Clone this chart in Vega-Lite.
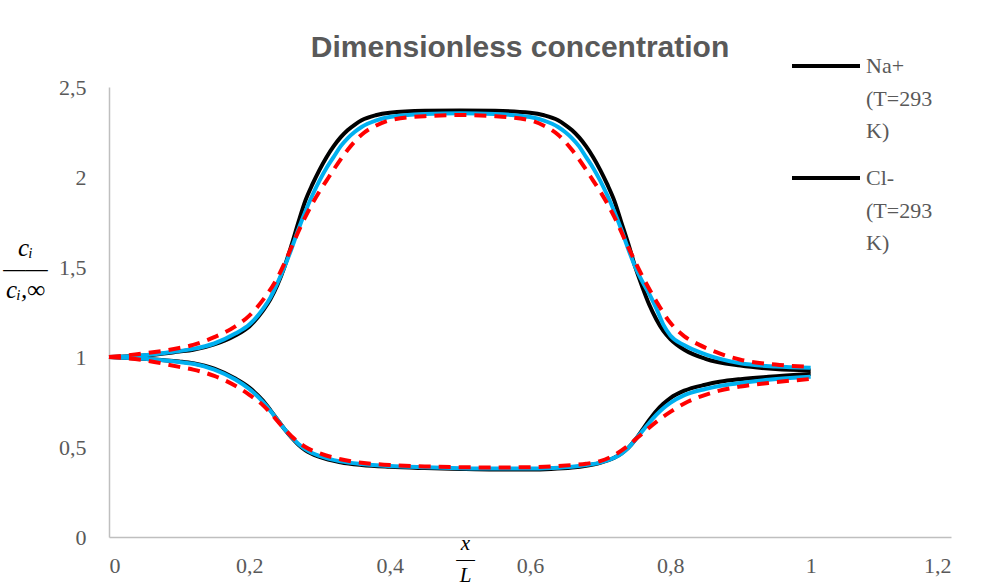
{
  "$schema": "https://vega.github.io/schema/vega-lite/v6.json",
  "width": 842,
  "height": 450,
  "autosize": {"type": "none"},
  "padding": {"left": 109, "top": 87, "right": 31, "bottom": 50},
  "background": "white",
  "title": {
    "text": "Dimensionless concentration",
    "font": "Liberation Sans",
    "fontSize": 30,
    "fontWeight": "bold",
    "color": "#595959",
    "baseline": "alphabetic",
    "offset": 25,
    "dx": -10,
    "dy": 82
  },
  "config": {
    "view": {"stroke": null},
    "axis": {
      "grid": false,
      "ticks": false,
      "domainColor": "#bfbfbf",
      "domainWidth": 1.5,
      "labelFont": "Liberation Serif",
      "labelFontSize": 22,
      "labelColor": "#595959",
      "titleFont": "Liberation Serif",
      "titleFontStyle": "italic",
      "titleFontWeight": "normal",
      "titleColor": "#000000"
    },
    "legend": {
      "labelFont": "Liberation Serif",
      "labelFontSize": 22,
      "labelColor": "#595959",
      "labelLimit": 200
    }
  },
  "data": {
    "values": [
      {"run": "A", "ion": "Na+ (T=293 K)", "x": 0, "c": 1.0},
      {"run": "A", "ion": "Na+ (T=293 K)", "x": 0.05, "c": 1.008},
      {"run": "A", "ion": "Na+ (T=293 K)", "x": 0.1, "c": 1.03},
      {"run": "A", "ion": "Na+ (T=293 K)", "x": 0.12, "c": 1.04},
      {"run": "A", "ion": "Na+ (T=293 K)", "x": 0.15, "c": 1.07},
      {"run": "A", "ion": "Na+ (T=293 K)", "x": 0.18, "c": 1.12},
      {"run": "A", "ion": "Na+ (T=293 K)", "x": 0.2, "c": 1.17},
      {"run": "A", "ion": "Na+ (T=293 K)", "x": 0.22, "c": 1.26},
      {"run": "A", "ion": "Na+ (T=293 K)", "x": 0.23, "c": 1.32},
      {"run": "A", "ion": "Na+ (T=293 K)", "x": 0.24, "c": 1.4},
      {"run": "A", "ion": "Na+ (T=293 K)", "x": 0.25, "c": 1.5},
      {"run": "A", "ion": "Na+ (T=293 K)", "x": 0.26, "c": 1.62},
      {"run": "A", "ion": "Na+ (T=293 K)", "x": 0.27, "c": 1.75},
      {"run": "A", "ion": "Na+ (T=293 K)", "x": 0.28, "c": 1.87},
      {"run": "A", "ion": "Na+ (T=293 K)", "x": 0.29, "c": 1.96},
      {"run": "A", "ion": "Na+ (T=293 K)", "x": 0.3, "c": 2.04},
      {"run": "A", "ion": "Na+ (T=293 K)", "x": 0.31, "c": 2.11},
      {"run": "A", "ion": "Na+ (T=293 K)", "x": 0.32, "c": 2.17},
      {"run": "A", "ion": "Na+ (T=293 K)", "x": 0.33, "c": 2.22},
      {"run": "A", "ion": "Na+ (T=293 K)", "x": 0.34, "c": 2.26},
      {"run": "A", "ion": "Na+ (T=293 K)", "x": 0.35, "c": 2.29},
      {"run": "A", "ion": "Na+ (T=293 K)", "x": 0.36, "c": 2.315},
      {"run": "A", "ion": "Na+ (T=293 K)", "x": 0.38, "c": 2.343},
      {"run": "A", "ion": "Na+ (T=293 K)", "x": 0.4, "c": 2.357},
      {"run": "A", "ion": "Na+ (T=293 K)", "x": 0.45, "c": 2.368},
      {"run": "A", "ion": "Na+ (T=293 K)", "x": 0.5, "c": 2.37},
      {"run": "A", "ion": "Na+ (T=293 K)", "x": 0.55, "c": 2.368},
      {"run": "A", "ion": "Na+ (T=293 K)", "x": 0.6, "c": 2.357},
      {"run": "A", "ion": "Na+ (T=293 K)", "x": 0.62, "c": 2.343},
      {"run": "A", "ion": "Na+ (T=293 K)", "x": 0.64, "c": 2.315},
      {"run": "A", "ion": "Na+ (T=293 K)", "x": 0.65, "c": 2.29},
      {"run": "A", "ion": "Na+ (T=293 K)", "x": 0.66, "c": 2.26},
      {"run": "A", "ion": "Na+ (T=293 K)", "x": 0.67, "c": 2.22},
      {"run": "A", "ion": "Na+ (T=293 K)", "x": 0.68, "c": 2.17},
      {"run": "A", "ion": "Na+ (T=293 K)", "x": 0.69, "c": 2.11},
      {"run": "A", "ion": "Na+ (T=293 K)", "x": 0.7, "c": 2.04},
      {"run": "A", "ion": "Na+ (T=293 K)", "x": 0.71, "c": 1.96},
      {"run": "A", "ion": "Na+ (T=293 K)", "x": 0.72, "c": 1.87},
      {"run": "A", "ion": "Na+ (T=293 K)", "x": 0.73, "c": 1.75},
      {"run": "A", "ion": "Na+ (T=293 K)", "x": 0.74, "c": 1.63},
      {"run": "A", "ion": "Na+ (T=293 K)", "x": 0.75, "c": 1.5},
      {"run": "A", "ion": "Na+ (T=293 K)", "x": 0.76, "c": 1.39},
      {"run": "A", "ion": "Na+ (T=293 K)", "x": 0.77, "c": 1.29},
      {"run": "A", "ion": "Na+ (T=293 K)", "x": 0.78, "c": 1.21},
      {"run": "A", "ion": "Na+ (T=293 K)", "x": 0.79, "c": 1.145},
      {"run": "A", "ion": "Na+ (T=293 K)", "x": 0.8, "c": 1.1},
      {"run": "A", "ion": "Na+ (T=293 K)", "x": 0.82, "c": 1.04},
      {"run": "A", "ion": "Na+ (T=293 K)", "x": 0.85, "c": 0.99},
      {"run": "A", "ion": "Na+ (T=293 K)", "x": 0.9, "c": 0.952},
      {"run": "A", "ion": "Na+ (T=293 K)", "x": 0.95, "c": 0.933},
      {"run": "A", "ion": "Na+ (T=293 K)", "x": 1.0, "c": 0.925},

      {"run": "B", "ion": "Na+ (T=293 K)", "x": 0, "c": 1.0},
      {"run": "B", "ion": "Na+ (T=293 K)", "x": 0.05, "c": 1.01},
      {"run": "B", "ion": "Na+ (T=293 K)", "x": 0.1, "c": 1.033},
      {"run": "B", "ion": "Na+ (T=293 K)", "x": 0.12, "c": 1.045},
      {"run": "B", "ion": "Na+ (T=293 K)", "x": 0.15, "c": 1.075},
      {"run": "B", "ion": "Na+ (T=293 K)", "x": 0.18, "c": 1.13},
      {"run": "B", "ion": "Na+ (T=293 K)", "x": 0.2, "c": 1.18},
      {"run": "B", "ion": "Na+ (T=293 K)", "x": 0.22, "c": 1.27},
      {"run": "B", "ion": "Na+ (T=293 K)", "x": 0.23, "c": 1.33},
      {"run": "B", "ion": "Na+ (T=293 K)", "x": 0.24, "c": 1.41},
      {"run": "B", "ion": "Na+ (T=293 K)", "x": 0.25, "c": 1.5},
      {"run": "B", "ion": "Na+ (T=293 K)", "x": 0.26, "c": 1.6},
      {"run": "B", "ion": "Na+ (T=293 K)", "x": 0.27, "c": 1.71},
      {"run": "B", "ion": "Na+ (T=293 K)", "x": 0.28, "c": 1.81},
      {"run": "B", "ion": "Na+ (T=293 K)", "x": 0.29, "c": 1.9},
      {"run": "B", "ion": "Na+ (T=293 K)", "x": 0.3, "c": 1.98},
      {"run": "B", "ion": "Na+ (T=293 K)", "x": 0.31, "c": 2.05},
      {"run": "B", "ion": "Na+ (T=293 K)", "x": 0.32, "c": 2.11},
      {"run": "B", "ion": "Na+ (T=293 K)", "x": 0.33, "c": 2.17},
      {"run": "B", "ion": "Na+ (T=293 K)", "x": 0.34, "c": 2.215},
      {"run": "B", "ion": "Na+ (T=293 K)", "x": 0.35, "c": 2.25},
      {"run": "B", "ion": "Na+ (T=293 K)", "x": 0.36, "c": 2.278},
      {"run": "B", "ion": "Na+ (T=293 K)", "x": 0.38, "c": 2.313},
      {"run": "B", "ion": "Na+ (T=293 K)", "x": 0.4, "c": 2.333},
      {"run": "B", "ion": "Na+ (T=293 K)", "x": 0.45, "c": 2.35},
      {"run": "B", "ion": "Na+ (T=293 K)", "x": 0.5, "c": 2.354},
      {"run": "B", "ion": "Na+ (T=293 K)", "x": 0.55, "c": 2.35},
      {"run": "B", "ion": "Na+ (T=293 K)", "x": 0.6, "c": 2.333},
      {"run": "B", "ion": "Na+ (T=293 K)", "x": 0.62, "c": 2.313},
      {"run": "B", "ion": "Na+ (T=293 K)", "x": 0.64, "c": 2.278},
      {"run": "B", "ion": "Na+ (T=293 K)", "x": 0.65, "c": 2.25},
      {"run": "B", "ion": "Na+ (T=293 K)", "x": 0.66, "c": 2.215},
      {"run": "B", "ion": "Na+ (T=293 K)", "x": 0.67, "c": 2.17},
      {"run": "B", "ion": "Na+ (T=293 K)", "x": 0.68, "c": 2.11},
      {"run": "B", "ion": "Na+ (T=293 K)", "x": 0.69, "c": 2.05},
      {"run": "B", "ion": "Na+ (T=293 K)", "x": 0.7, "c": 1.98},
      {"run": "B", "ion": "Na+ (T=293 K)", "x": 0.71, "c": 1.9},
      {"run": "B", "ion": "Na+ (T=293 K)", "x": 0.72, "c": 1.81},
      {"run": "B", "ion": "Na+ (T=293 K)", "x": 0.73, "c": 1.71},
      {"run": "B", "ion": "Na+ (T=293 K)", "x": 0.74, "c": 1.6},
      {"run": "B", "ion": "Na+ (T=293 K)", "x": 0.75, "c": 1.5},
      {"run": "B", "ion": "Na+ (T=293 K)", "x": 0.76, "c": 1.42},
      {"run": "B", "ion": "Na+ (T=293 K)", "x": 0.77, "c": 1.35},
      {"run": "B", "ion": "Na+ (T=293 K)", "x": 0.78, "c": 1.27},
      {"run": "B", "ion": "Na+ (T=293 K)", "x": 0.79, "c": 1.18},
      {"run": "B", "ion": "Na+ (T=293 K)", "x": 0.8, "c": 1.12},
      {"run": "B", "ion": "Na+ (T=293 K)", "x": 0.82, "c": 1.065},
      {"run": "B", "ion": "Na+ (T=293 K)", "x": 0.85, "c": 1.015},
      {"run": "B", "ion": "Na+ (T=293 K)", "x": 0.9, "c": 0.965},
      {"run": "B", "ion": "Na+ (T=293 K)", "x": 0.95, "c": 0.947},
      {"run": "B", "ion": "Na+ (T=293 K)", "x": 1.0, "c": 0.94},

      {"run": "C", "ion": "Na+ (T=293 K)", "x": 0, "c": 1.0},
      {"run": "C", "ion": "Na+ (T=293 K)", "x": 0.05, "c": 1.02},
      {"run": "C", "ion": "Na+ (T=293 K)", "x": 0.1, "c": 1.05},
      {"run": "C", "ion": "Na+ (T=293 K)", "x": 0.12, "c": 1.067},
      {"run": "C", "ion": "Na+ (T=293 K)", "x": 0.15, "c": 1.11},
      {"run": "C", "ion": "Na+ (T=293 K)", "x": 0.18, "c": 1.17},
      {"run": "C", "ion": "Na+ (T=293 K)", "x": 0.2, "c": 1.23},
      {"run": "C", "ion": "Na+ (T=293 K)", "x": 0.22, "c": 1.32},
      {"run": "C", "ion": "Na+ (T=293 K)", "x": 0.24, "c": 1.44},
      {"run": "C", "ion": "Na+ (T=293 K)", "x": 0.25, "c": 1.52},
      {"run": "C", "ion": "Na+ (T=293 K)", "x": 0.26, "c": 1.61},
      {"run": "C", "ion": "Na+ (T=293 K)", "x": 0.28, "c": 1.78},
      {"run": "C", "ion": "Na+ (T=293 K)", "x": 0.3, "c": 1.92},
      {"run": "C", "ion": "Na+ (T=293 K)", "x": 0.31, "c": 1.98},
      {"run": "C", "ion": "Na+ (T=293 K)", "x": 0.32, "c": 2.04},
      {"run": "C", "ion": "Na+ (T=293 K)", "x": 0.34, "c": 2.15},
      {"run": "C", "ion": "Na+ (T=293 K)", "x": 0.36, "c": 2.235},
      {"run": "C", "ion": "Na+ (T=293 K)", "x": 0.38, "c": 2.285},
      {"run": "C", "ion": "Na+ (T=293 K)", "x": 0.4, "c": 2.315},
      {"run": "C", "ion": "Na+ (T=293 K)", "x": 0.45, "c": 2.338},
      {"run": "C", "ion": "Na+ (T=293 K)", "x": 0.5, "c": 2.344},
      {"run": "C", "ion": "Na+ (T=293 K)", "x": 0.55, "c": 2.338},
      {"run": "C", "ion": "Na+ (T=293 K)", "x": 0.6, "c": 2.315},
      {"run": "C", "ion": "Na+ (T=293 K)", "x": 0.62, "c": 2.285},
      {"run": "C", "ion": "Na+ (T=293 K)", "x": 0.64, "c": 2.235},
      {"run": "C", "ion": "Na+ (T=293 K)", "x": 0.66, "c": 2.15},
      {"run": "C", "ion": "Na+ (T=293 K)", "x": 0.68, "c": 2.04},
      {"run": "C", "ion": "Na+ (T=293 K)", "x": 0.69, "c": 1.98},
      {"run": "C", "ion": "Na+ (T=293 K)", "x": 0.7, "c": 1.92},
      {"run": "C", "ion": "Na+ (T=293 K)", "x": 0.72, "c": 1.78},
      {"run": "C", "ion": "Na+ (T=293 K)", "x": 0.74, "c": 1.61},
      {"run": "C", "ion": "Na+ (T=293 K)", "x": 0.76, "c": 1.45},
      {"run": "C", "ion": "Na+ (T=293 K)", "x": 0.78, "c": 1.31},
      {"run": "C", "ion": "Na+ (T=293 K)", "x": 0.8, "c": 1.19},
      {"run": "C", "ion": "Na+ (T=293 K)", "x": 0.82, "c": 1.115},
      {"run": "C", "ion": "Na+ (T=293 K)", "x": 0.84, "c": 1.07},
      {"run": "C", "ion": "Na+ (T=293 K)", "x": 0.87, "c": 1.02},
      {"run": "C", "ion": "Na+ (T=293 K)", "x": 0.9, "c": 0.985},
      {"run": "C", "ion": "Na+ (T=293 K)", "x": 0.95, "c": 0.958},
      {"run": "C", "ion": "Na+ (T=293 K)", "x": 1.0, "c": 0.945},

      {"run": "A", "ion": "Cl- (T=293 K)", "x": 0, "c": 1.0},
      {"run": "A", "ion": "Cl- (T=293 K)", "x": 0.05, "c": 0.99},
      {"run": "A", "ion": "Cl- (T=293 K)", "x": 0.1, "c": 0.975},
      {"run": "A", "ion": "Cl- (T=293 K)", "x": 0.12, "c": 0.965},
      {"run": "A", "ion": "Cl- (T=293 K)", "x": 0.15, "c": 0.935},
      {"run": "A", "ion": "Cl- (T=293 K)", "x": 0.18, "c": 0.88},
      {"run": "A", "ion": "Cl- (T=293 K)", "x": 0.2, "c": 0.83},
      {"run": "A", "ion": "Cl- (T=293 K)", "x": 0.22, "c": 0.755},
      {"run": "A", "ion": "Cl- (T=293 K)", "x": 0.23, "c": 0.705},
      {"run": "A", "ion": "Cl- (T=293 K)", "x": 0.24, "c": 0.652},
      {"run": "A", "ion": "Cl- (T=293 K)", "x": 0.25, "c": 0.6},
      {"run": "A", "ion": "Cl- (T=293 K)", "x": 0.26, "c": 0.553},
      {"run": "A", "ion": "Cl- (T=293 K)", "x": 0.27, "c": 0.513},
      {"run": "A", "ion": "Cl- (T=293 K)", "x": 0.28, "c": 0.482},
      {"run": "A", "ion": "Cl- (T=293 K)", "x": 0.3, "c": 0.445},
      {"run": "A", "ion": "Cl- (T=293 K)", "x": 0.33, "c": 0.415},
      {"run": "A", "ion": "Cl- (T=293 K)", "x": 0.36, "c": 0.4},
      {"run": "A", "ion": "Cl- (T=293 K)", "x": 0.4, "c": 0.39},
      {"run": "A", "ion": "Cl- (T=293 K)", "x": 0.45, "c": 0.383},
      {"run": "A", "ion": "Cl- (T=293 K)", "x": 0.5, "c": 0.378},
      {"run": "A", "ion": "Cl- (T=293 K)", "x": 0.55, "c": 0.375},
      {"run": "A", "ion": "Cl- (T=293 K)", "x": 0.6, "c": 0.375},
      {"run": "A", "ion": "Cl- (T=293 K)", "x": 0.63, "c": 0.378},
      {"run": "A", "ion": "Cl- (T=293 K)", "x": 0.66, "c": 0.386},
      {"run": "A", "ion": "Cl- (T=293 K)", "x": 0.68, "c": 0.396},
      {"run": "A", "ion": "Cl- (T=293 K)", "x": 0.7, "c": 0.412},
      {"run": "A", "ion": "Cl- (T=293 K)", "x": 0.72, "c": 0.44},
      {"run": "A", "ion": "Cl- (T=293 K)", "x": 0.73, "c": 0.463},
      {"run": "A", "ion": "Cl- (T=293 K)", "x": 0.74, "c": 0.495},
      {"run": "A", "ion": "Cl- (T=293 K)", "x": 0.75, "c": 0.54},
      {"run": "A", "ion": "Cl- (T=293 K)", "x": 0.76, "c": 0.595},
      {"run": "A", "ion": "Cl- (T=293 K)", "x": 0.77, "c": 0.65},
      {"run": "A", "ion": "Cl- (T=293 K)", "x": 0.78, "c": 0.7},
      {"run": "A", "ion": "Cl- (T=293 K)", "x": 0.79, "c": 0.74},
      {"run": "A", "ion": "Cl- (T=293 K)", "x": 0.8, "c": 0.772},
      {"run": "A", "ion": "Cl- (T=293 K)", "x": 0.82, "c": 0.813},
      {"run": "A", "ion": "Cl- (T=293 K)", "x": 0.85, "c": 0.846},
      {"run": "A", "ion": "Cl- (T=293 K)", "x": 0.87, "c": 0.862},
      {"run": "A", "ion": "Cl- (T=293 K)", "x": 0.9, "c": 0.877},
      {"run": "A", "ion": "Cl- (T=293 K)", "x": 0.94, "c": 0.89},
      {"run": "A", "ion": "Cl- (T=293 K)", "x": 1.0, "c": 0.905},

      {"run": "B", "ion": "Cl- (T=293 K)", "x": 0, "c": 1.0},
      {"run": "B", "ion": "Cl- (T=293 K)", "x": 0.05, "c": 0.99},
      {"run": "B", "ion": "Cl- (T=293 K)", "x": 0.1, "c": 0.972},
      {"run": "B", "ion": "Cl- (T=293 K)", "x": 0.12, "c": 0.962},
      {"run": "B", "ion": "Cl- (T=293 K)", "x": 0.15, "c": 0.93},
      {"run": "B", "ion": "Cl- (T=293 K)", "x": 0.18, "c": 0.875},
      {"run": "B", "ion": "Cl- (T=293 K)", "x": 0.2, "c": 0.822},
      {"run": "B", "ion": "Cl- (T=293 K)", "x": 0.22, "c": 0.748},
      {"run": "B", "ion": "Cl- (T=293 K)", "x": 0.23, "c": 0.702},
      {"run": "B", "ion": "Cl- (T=293 K)", "x": 0.24, "c": 0.651},
      {"run": "B", "ion": "Cl- (T=293 K)", "x": 0.25, "c": 0.6},
      {"run": "B", "ion": "Cl- (T=293 K)", "x": 0.26, "c": 0.556},
      {"run": "B", "ion": "Cl- (T=293 K)", "x": 0.27, "c": 0.517},
      {"run": "B", "ion": "Cl- (T=293 K)", "x": 0.28, "c": 0.487},
      {"run": "B", "ion": "Cl- (T=293 K)", "x": 0.3, "c": 0.45},
      {"run": "B", "ion": "Cl- (T=293 K)", "x": 0.33, "c": 0.42},
      {"run": "B", "ion": "Cl- (T=293 K)", "x": 0.36, "c": 0.405},
      {"run": "B", "ion": "Cl- (T=293 K)", "x": 0.4, "c": 0.394},
      {"run": "B", "ion": "Cl- (T=293 K)", "x": 0.45, "c": 0.387},
      {"run": "B", "ion": "Cl- (T=293 K)", "x": 0.5, "c": 0.382},
      {"run": "B", "ion": "Cl- (T=293 K)", "x": 0.55, "c": 0.38},
      {"run": "B", "ion": "Cl- (T=293 K)", "x": 0.6, "c": 0.38},
      {"run": "B", "ion": "Cl- (T=293 K)", "x": 0.63, "c": 0.383},
      {"run": "B", "ion": "Cl- (T=293 K)", "x": 0.66, "c": 0.39},
      {"run": "B", "ion": "Cl- (T=293 K)", "x": 0.68, "c": 0.4},
      {"run": "B", "ion": "Cl- (T=293 K)", "x": 0.7, "c": 0.413},
      {"run": "B", "ion": "Cl- (T=293 K)", "x": 0.72, "c": 0.44},
      {"run": "B", "ion": "Cl- (T=293 K)", "x": 0.73, "c": 0.462},
      {"run": "B", "ion": "Cl- (T=293 K)", "x": 0.74, "c": 0.495},
      {"run": "B", "ion": "Cl- (T=293 K)", "x": 0.75, "c": 0.54},
      {"run": "B", "ion": "Cl- (T=293 K)", "x": 0.76, "c": 0.588},
      {"run": "B", "ion": "Cl- (T=293 K)", "x": 0.77, "c": 0.635},
      {"run": "B", "ion": "Cl- (T=293 K)", "x": 0.78, "c": 0.678},
      {"run": "B", "ion": "Cl- (T=293 K)", "x": 0.79, "c": 0.715},
      {"run": "B", "ion": "Cl- (T=293 K)", "x": 0.8, "c": 0.745},
      {"run": "B", "ion": "Cl- (T=293 K)", "x": 0.82, "c": 0.788},
      {"run": "B", "ion": "Cl- (T=293 K)", "x": 0.85, "c": 0.822},
      {"run": "B", "ion": "Cl- (T=293 K)", "x": 0.87, "c": 0.839},
      {"run": "B", "ion": "Cl- (T=293 K)", "x": 0.9, "c": 0.855},
      {"run": "B", "ion": "Cl- (T=293 K)", "x": 0.94, "c": 0.873},
      {"run": "B", "ion": "Cl- (T=293 K)", "x": 1.0, "c": 0.89},

      {"run": "C", "ion": "Cl- (T=293 K)", "x": 0, "c": 1.0},
      {"run": "C", "ion": "Cl- (T=293 K)", "x": 0.05, "c": 0.982},
      {"run": "C", "ion": "Cl- (T=293 K)", "x": 0.1, "c": 0.945},
      {"run": "C", "ion": "Cl- (T=293 K)", "x": 0.12, "c": 0.93},
      {"run": "C", "ion": "Cl- (T=293 K)", "x": 0.15, "c": 0.895},
      {"run": "C", "ion": "Cl- (T=293 K)", "x": 0.18, "c": 0.84},
      {"run": "C", "ion": "Cl- (T=293 K)", "x": 0.2, "c": 0.79},
      {"run": "C", "ion": "Cl- (T=293 K)", "x": 0.22, "c": 0.73},
      {"run": "C", "ion": "Cl- (T=293 K)", "x": 0.23, "c": 0.69},
      {"run": "C", "ion": "Cl- (T=293 K)", "x": 0.24, "c": 0.645},
      {"run": "C", "ion": "Cl- (T=293 K)", "x": 0.25, "c": 0.6},
      {"run": "C", "ion": "Cl- (T=293 K)", "x": 0.26, "c": 0.56},
      {"run": "C", "ion": "Cl- (T=293 K)", "x": 0.27, "c": 0.527},
      {"run": "C", "ion": "Cl- (T=293 K)", "x": 0.28, "c": 0.5},
      {"run": "C", "ion": "Cl- (T=293 K)", "x": 0.3, "c": 0.465},
      {"run": "C", "ion": "Cl- (T=293 K)", "x": 0.33, "c": 0.432},
      {"run": "C", "ion": "Cl- (T=293 K)", "x": 0.36, "c": 0.412},
      {"run": "C", "ion": "Cl- (T=293 K)", "x": 0.4, "c": 0.4},
      {"run": "C", "ion": "Cl- (T=293 K)", "x": 0.45, "c": 0.392},
      {"run": "C", "ion": "Cl- (T=293 K)", "x": 0.5, "c": 0.388},
      {"run": "C", "ion": "Cl- (T=293 K)", "x": 0.55, "c": 0.386},
      {"run": "C", "ion": "Cl- (T=293 K)", "x": 0.6, "c": 0.388},
      {"run": "C", "ion": "Cl- (T=293 K)", "x": 0.63, "c": 0.392},
      {"run": "C", "ion": "Cl- (T=293 K)", "x": 0.66, "c": 0.4},
      {"run": "C", "ion": "Cl- (T=293 K)", "x": 0.68, "c": 0.407},
      {"run": "C", "ion": "Cl- (T=293 K)", "x": 0.7, "c": 0.422},
      {"run": "C", "ion": "Cl- (T=293 K)", "x": 0.72, "c": 0.455},
      {"run": "C", "ion": "Cl- (T=293 K)", "x": 0.74, "c": 0.508},
      {"run": "C", "ion": "Cl- (T=293 K)", "x": 0.76, "c": 0.575},
      {"run": "C", "ion": "Cl- (T=293 K)", "x": 0.78, "c": 0.64},
      {"run": "C", "ion": "Cl- (T=293 K)", "x": 0.8, "c": 0.695},
      {"run": "C", "ion": "Cl- (T=293 K)", "x": 0.82, "c": 0.742},
      {"run": "C", "ion": "Cl- (T=293 K)", "x": 0.85, "c": 0.79},
      {"run": "C", "ion": "Cl- (T=293 K)", "x": 0.87, "c": 0.813},
      {"run": "C", "ion": "Cl- (T=293 K)", "x": 0.9, "c": 0.836},
      {"run": "C", "ion": "Cl- (T=293 K)", "x": 0.94, "c": 0.856},
      {"run": "C", "ion": "Cl- (T=293 K)", "x": 1.0, "c": 0.878}
    ]
  },
  "encoding": {
    "x": {
      "field": "x",
      "type": "quantitative",
      "scale": {"domain": [0, 1.2], "nice": false, "zero": false},
      "axis": {
        "values": [0, 0.2, 0.4, 0.6, 0.8, 1, 1.2],
        "labelExpr": "replace(format(datum.value, '~g'), '.', ',')",
        "labelPadding": 18,
        "title": ["x", "—", "L"],
        "titleFontSize": 21,
        "titleLineHeight": 16,
        "titleAlign": "center",
        "titleBaseline": "alphabetic",
        "titleX": 356,
        "titleY": 12,
        "titleAngle": 0
      }
    },
    "y": {
      "field": "c",
      "type": "quantitative",
      "scale": {"domain": [0, 2.5], "nice": false},
      "axis": {
        "values": [0, 0.5, 1, 1.5, 2, 2.5],
        "labelExpr": "replace(format(datum.value, '~g'), '.', ',')",
        "labelPadding": 23,
        "title": ["cᵢ", "——", "cᵢ,∞"],
        "titleFontSize": 25,
        "titleLineHeight": 21,
        "titleAngle": 0,
        "titleAlign": "center",
        "titleBaseline": "alphabetic",
        "titleX": -84,
        "titleY": 168
      }
    },
    "detail": {"field": "ion"}
  },
  "layer": [
    {
      "transform": [{"filter": "datum.run === 'A'"}],
      "mark": {"type": "line", "strokeWidth": 4, "interpolate": "monotone"},
      "encoding": {
        "color": {
          "field": "ion",
          "type": "nominal",
          "scale": {"domain": ["Na+ (T=293 K)", "Cl- (T=293 K)"], "range": ["#000000", "#000000"]},
          "legend": {
            "title": null,
            "orient": "none",
            "legendX": 681,
            "legendY": -57,
            "symbolType": "stroke",
            "symbolSize": 4624,
            "symbolStrokeWidth": 4,
            "labelOffset": 4,
            "labelExpr": "split(datum.label, ' ')",
            "rowPadding": -5,
            "encode": {
              "labels": {"update": {"lineHeight": {"value": 32.5}}}
            }
          }
        }
      }
    },
    {
      "transform": [{"filter": "datum.run === 'B'"}],
      "mark": {"type": "line", "strokeWidth": 4, "interpolate": "monotone", "color": "#00b0f0"}
    },
    {
      "transform": [{"filter": "datum.run === 'C'"}],
      "mark": {"type": "line", "strokeWidth": 4, "interpolate": "monotone", "color": "#ff0000", "strokeDash": [12, 8]}
    }
  ]
}
